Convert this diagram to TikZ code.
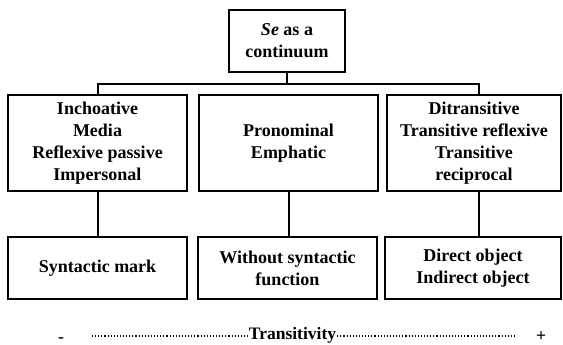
\documentclass[tikz,border=0pt]{standalone}
\usepackage{fontspec}
\setmainfont{Liberation Serif}
\begin{document}
\begin{tikzpicture}[x=1pt,y=-1pt,
  box/.style={draw=black,line width=1.7pt,align=center,inner sep=0pt,
    font=\bfseries\fontsize{18}{21.8}\selectfont},
  conn/.style={draw=black,line width=1.5pt},
  dots/.style={line width=1.1pt,dash pattern=on 1.1pt off 2pt},
  lbl/.style={inner sep=0pt,anchor=base,font=\bfseries\fontsize{17.5}{20}\selectfont}]
\useasboundingbox (0,0) rectangle (563,345);
% top
\node[box,minimum width=116pt,minimum height=62pt] (top) at (287,41) {\textit{Se} as a\\continuum};
% row 2
\node[box,minimum width=179pt,minimum height=96pt] (ra) at (97.5,143) {Inchoative\\Media\\Reflexive passive\\Impersonal};
\node[box,minimum width=179pt,minimum height=96pt] (rb) at (288.5,143) {Pronominal\\Emphatic};
\node[box,minimum width=174pt,minimum height=96pt] (rc) at (474,143) {Ditransitive\\Transitive reflexive\\Transitive\\reciprocal};
% row 3
\node[box,minimum width=179pt,minimum height=62pt] (sa) at (97.5,268) {Syntactic mark};
\node[box,minimum width=179pt,minimum height=62pt] (sb) at (287.5,268) {Without syntactic\\function};
\node[box,minimum width=176pt,minimum height=62pt] (sc) at (473,268) {Direct object\\Indirect object};
% connectors
\coordinate (hub) at (287,84);
\draw[conn] (top.south) -- (hub);
\draw[conn] ([xshift=0.5pt]ra.north) |- (hub) -| ([xshift=5pt]rc.north);
\draw[conn] ([xshift=0.5pt]ra.south) -- ([xshift=0.5pt]ra.south |- sa.north);
\draw[conn] ([xshift=0.5pt]rb.south) -- ([xshift=0.5pt]rb.south |- sb.north);
\draw[conn] ([xshift=5pt]rc.south) -- ([xshift=5pt]rc.south |- sc.north);
% transitivity scale
\node[lbl] (tr) at (292.5,339) {Transitivity};
\node[lbl] (mi) at (61,342) {-};
\node[lbl] (pl) at (541,341) {+};
\coordinate (dl) at (92,336);
\coordinate (dr) at (516,336);
\draw[dots] (dl) -- ([xshift=-1pt]tr.west |- dl);
\draw[dots] ([xshift=1pt]tr.east |- dr) -- (dr);
\end{tikzpicture}
\end{document}
